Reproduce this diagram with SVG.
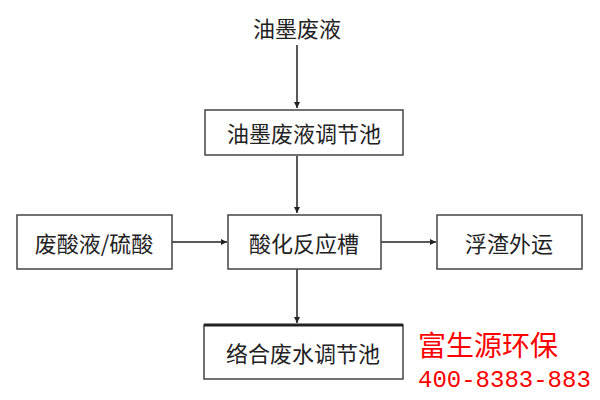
<svg xmlns="http://www.w3.org/2000/svg" width="600" height="400" viewBox="0 0 600 400">
<style>
.b{fill:#fff;stroke:#444;stroke-width:1.5}
.t{font-family:"Noto Sans CJK SC",sans-serif;font-size:22px;fill:#222;text-anchor:middle;dominant-baseline:central}
.r{font-family:"Noto Sans CJK SC",sans-serif;font-size:28px;fill:#f00}
.p{font-family:"Liberation Mono",monospace;font-size:24px;fill:#f00}
.c{stroke:#222;stroke-width:1.5;fill:none;marker-end:url(#a)}
</style>
<defs><marker id="a" viewBox="0 0 10 10" refX="10" refY="5" markerWidth="6" markerHeight="6" orient="auto" markerUnits="userSpaceOnUse"><path d="M0,0L10,5L0,10z" fill="#222"/></marker></defs>
<rect width="600" height="400" fill="#fff"/>
<g id="connectors">
<path class="c" d="M297,45V108"/>
<path class="c" d="M297,156V213"/>
<path class="c" d="M172,242H227"/>
<path class="c" d="M381,242H436"/>
<path class="c" d="M297,269V323"/>
</g>
<g id="n0"><text class="t" x="297" y="27">油墨废液</text></g>
<g id="n1"><rect class="b" x="205" y="110" width="198" height="45"/><text class="t" x="304" y="132">油墨废液调节池</text></g>
<g id="n2"><rect class="b" x="17" y="215" width="155" height="54"/><text class="t" x="94" y="242">废酸液/硫酸</text></g>
<g id="n3"><rect class="b" x="228" y="215" width="153" height="54"/><text class="t" x="304" y="242">酸化反应槽</text></g>
<g id="n4"><rect class="b" x="437" y="215" width="145" height="54"/><text class="t" x="509" y="242">浮渣外运</text></g>
<g id="n5"><rect class="b" x="204" y="325" width="199" height="54"/><line x1="204" y1="325" x2="403" y2="325" stroke="#222" stroke-width="3"/><text class="t" x="303" y="352">络合废水调节池</text></g>
<g id="brand"><text class="r" x="418" y="356">富生源环保</text><text class="p" x="418" y="387">400-8383-883</text></g>
</svg>
